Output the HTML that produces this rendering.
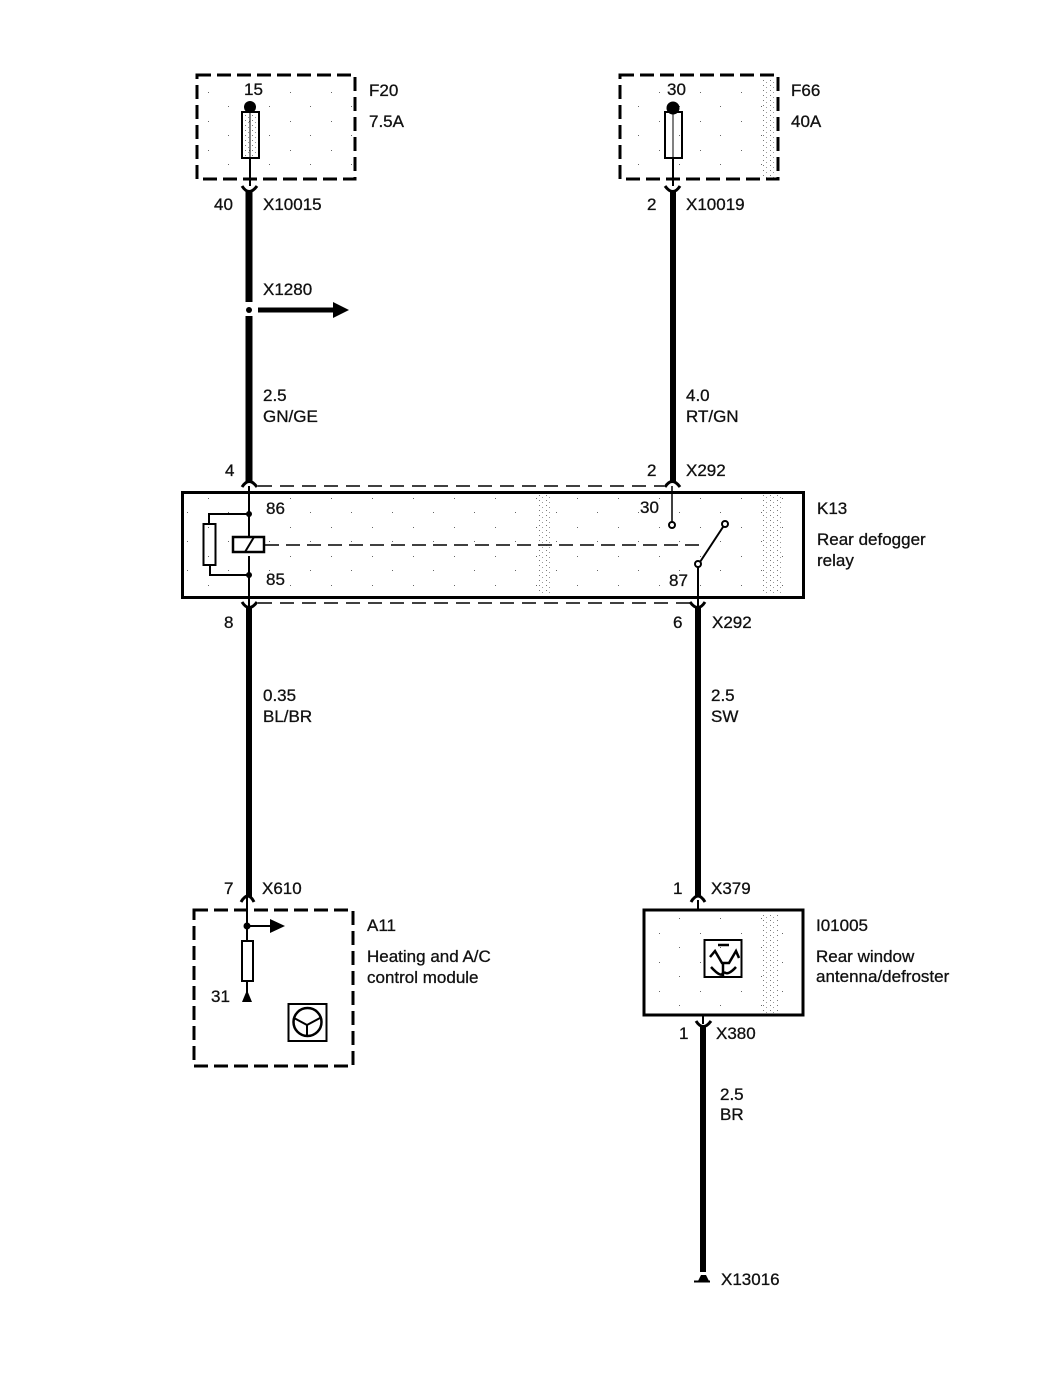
<!DOCTYPE html>
<html><head><meta charset="utf-8"><style>
html,body{margin:0;padding:0;background:#fff}
svg{display:block}
text{font-family:"Liberation Sans",sans-serif;font-size:17px;fill:#111;stroke:#111;stroke-width:.3}
</style></head><body>
<svg width="1056" height="1376" viewBox="0 0 1056 1376" xmlns="http://www.w3.org/2000/svg">
<defs>
<pattern id="d1" width="7" height="5" patternUnits="userSpaceOnUse"><rect width="1" height="1" fill="#777"/><rect x="3" y="2" width="1" height="1" fill="#999"/></pattern>
<pattern id="d2" width="41" height="29" patternUnits="userSpaceOnUse"><rect x="3" y="5" width="1" height="1" fill="#666"/><rect x="23" y="19" width="1" height="1" fill="#666"/></pattern>
</defs>

<!-- shading -->
<rect x="199" y="78" width="155" height="100" fill="url(#d2)"/>
<rect x="622" y="78" width="155" height="100" fill="url(#d2)"/>
<rect x="763" y="78" width="14" height="100" fill="url(#d1)"/>
<rect x="185" y="495" width="616" height="100" fill="url(#d2)"/>
<rect x="536" y="495" width="14" height="100" fill="url(#d1)"/>
<rect x="762" y="495" width="20" height="100" fill="url(#d1)"/>
<rect x="646" y="912" width="156" height="102" fill="url(#d2)"/>
<rect x="760" y="915" width="18" height="98" fill="url(#d1)"/>
<rect x="243" y="114" width="15" height="42" fill="url(#d1)"/>

<g fill="none" stroke="#000">
<!-- Dashed boxes -->
<rect x="197" y="75" width="158" height="104" stroke-width="3" stroke-dasharray="14 6"/>
<rect x="620" y="75" width="158" height="104" stroke-width="3" stroke-dasharray="14 6"/>
<rect x="194" y="910" width="159" height="156" stroke-width="3" stroke-dasharray="14 6"/>
<!-- Solid boxes -->
<rect x="182.500" y="492.500" width="621" height="105" stroke-width="3"/>
<rect x="644" y="910" width="159" height="105" stroke-width="3"/>
<!-- F20 wire and fuse -->
<rect x="242" y="112" width="17" height="46" stroke-width="2"/>
<line x1="250" y1="112" x2="250" y2="158" stroke-width="1"/>
<line x1="250" y1="158" x2="250" y2="186" stroke-width="2"/>
<path d="M242 186 Q249 197 257 186" stroke-width="3"/>
<path d="M249 191V302M249 316V482" stroke-width="7"/>
<path d="M258 310H336" stroke-width="5"/>
<!-- F66 -->
<rect x="665" y="112" width="17" height="46" stroke-width="2"/>
<line x1="673" y1="112" x2="673" y2="158" stroke-width="1"/>
<line x1="673" y1="158" x2="673" y2="186" stroke-width="2"/>
<path d="M665 186 Q673 197 680 186" stroke-width="3"/>
<path d="M673 191V482" stroke-width="6"/>
<!-- upper connector -->
<path d="M242 487 Q249 476 257 487" stroke-width="3"/>
<path d="M665 487 Q672 476 680 487" stroke-width="3"/>
<path d="M258 486H664" stroke-width="1.500" stroke-dasharray="14 8"/>
<!-- lower connector -->
<path d="M242 602 Q249 613 257 602" stroke-width="3"/>
<path d="M690 602 Q698 613 705 602" stroke-width="3"/>
<path d="M258 603H690" stroke-width="1.500" stroke-dasharray="14 8"/>
<path d="M249 607V897" stroke-width="6"/>
<path d="M698 607V897" stroke-width="6"/>
<!-- relay internals -->
<path d="M249 486V537M249 556V606" stroke-width="2"/>
<path d="M249 514H209V524M249 575H210V565" stroke-width="2"/>
<rect x="203.500" y="524" width="12" height="41" stroke-width="2"/>
<rect x="233" y="537" width="31" height="15" stroke-width="2.500"/>
<path d="M245 552L254 537" stroke-width="2"/>
<path d="M265 545H700" stroke-width="1.500" stroke-dasharray="14 7"/>
<path d="M672 486V522" stroke-width="1.500"/>
<circle cx="672" cy="525" r="3" stroke-width="2"/>
<circle cx="725" cy="524" r="3" stroke-width="2"/>
<circle cx="698" cy="564" r="3" stroke-width="2"/>
<path d="M723 527L700 562" stroke-width="2"/>
<path d="M698 567V606" stroke-width="2"/>
<!-- A11 -->
<path d="M241 902 Q248 890 254 902" stroke-width="3"/>
<path d="M247 897V941M247 981V998" stroke-width="2"/>
<path d="M247 926H272" stroke-width="2"/>
<rect x="242" y="941" width="11" height="40" stroke-width="2"/>
<rect x="288.500" y="1004" width="38" height="37" stroke-width="2"/>
<circle cx="307.500" cy="1022" r="14" stroke-width="2.500"/>
<path d="M294 1018L307 1025L320 1018M307 1025V1036" stroke-width="2"/>
<!-- I01005 -->
<path d="M691 902 Q698 890 705 902" stroke-width="3"/>
<path d="M698 900V910" stroke-width="2"/>
<rect x="704.500" y="940" width="37" height="37" stroke-width="2"/>
<path d="M710 957L715 951L722 963H729L736 951L739 958M723 963V976M711 967Q722 979 723 972M724 972Q728 976 736 967M718 945H729" stroke-width="2.500"/>
<!-- lower wire -->
<path d="M696 1021 Q703 1032 711 1021" stroke-width="3"/>
<path d="M703 1015V1024" stroke-width="2"/>
<path d="M703 1026V1272" stroke-width="6"/>
<path d="M694 1281.500H710" stroke-width="2"/>
</g>
<g fill="#000">
<circle cx="250" cy="107" r="6"/>
<circle cx="673" cy="108" r="6.500"/>
<circle cx="249" cy="310" r="3"/>
<path d="M333 302L349 310L333 318Z"/>
<circle cx="249" cy="514" r="3"/>
<circle cx="249" cy="575" r="3"/>
<circle cx="247" cy="926" r="3.500"/>
<path d="M270 919L285 926L270 933Z"/>
<path d="M242 1002L247 990L252 1002Z"/>
<path d="M698 1281L701 1275H706L709 1281Z"/>
</g>

<!-- Labels -->
<text x="244" y="95">15</text>
<text x="369" y="96">F20</text>
<text x="369" y="127">7.5A</text>
<text x="667" y="95">30</text>
<text x="791" y="96">F66</text>
<text x="791" y="127">40A</text>
<text x="214" y="210">40</text>
<text x="263" y="210">X10015</text>
<text x="647" y="210">2</text>
<text x="686" y="210">X10019</text>
<text x="263" y="295">X1280</text>
<text x="263" y="401">2.5</text>
<text x="263" y="422">GN/GE</text>
<text x="686" y="401">4.0</text>
<text x="686" y="422">RT/GN</text>
<text x="225" y="476">4</text>
<text x="647" y="476">2</text>
<text x="686" y="476">X292</text>
<text x="266" y="514">86</text>
<text x="640" y="513">30</text>
<text x="817" y="514">K13</text>
<text x="817" y="545">Rear defogger</text>
<text x="817" y="566">relay</text>
<text x="266" y="585">85</text>
<text x="669" y="586">87</text>
<text x="224" y="628">8</text>
<text x="673" y="628">6</text>
<text x="712" y="628">X292</text>
<text x="263" y="701">0.35</text>
<text x="263" y="722">BL/BR</text>
<text x="711" y="701">2.5</text>
<text x="711" y="722">SW</text>
<text x="224" y="894">7</text>
<text x="262" y="894">X610</text>
<text x="673" y="894">1</text>
<text x="711" y="894">X379</text>
<text x="367" y="931">A11</text>
<text x="367" y="962">Heating and A/C</text>
<text x="367" y="983">control module</text>
<text x="816" y="931">I01005</text>
<text x="816" y="962">Rear window</text>
<text x="816" y="982">antenna/defroster</text>
<text x="211" y="1002">31</text>
<text x="679" y="1039">1</text>
<text x="716" y="1039">X380</text>
<text x="720" y="1100">2.5</text>
<text x="720" y="1120">BR</text>
<text x="721" y="1285">X13016</text>
</svg>
</body></html>
